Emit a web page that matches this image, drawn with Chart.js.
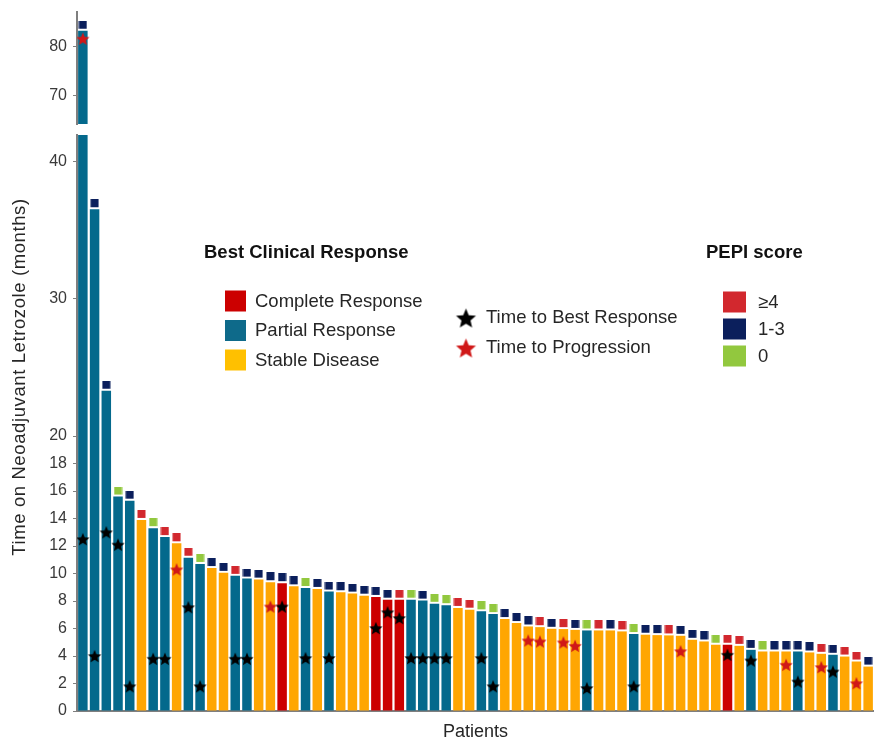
<!DOCTYPE html>
<html>
<head>
<meta charset="utf-8">
<script src="https://cdn.jsdelivr.net/npm/chart.js@4.4.1/dist/chart.umd.min.js"></script>
<style>
  html, body { margin: 0; padding: 0; background: #fff; }
  #wrap { position: relative; width: 874px; height: 743px; overflow: hidden; background: #fff; }
  #wrap canvas { position: absolute; left: 0; }
</style>
</head>
<body>
<div id="wrap">
  <canvas id="upper" width="874" height="128" style="top:0px"></canvas>
  <canvas id="lower" width="874" height="615" style="top:128px"></canvas>
</div>
<script>
// ---- data ---------------------------------------------------------------
// Time on neoadjuvant letrozole (months), one value per patient, sorted
const months = [
  83.2, 36.5, 23.3, 15.6, 15.3, 13.9, 13.3, 12.65, 12.2, 11.15,
  10.7, 10.4, 10.05, 9.83, 9.63, 9.56, 9.37, 9.3, 9.07, 8.95,
  8.88, 8.69, 8.64, 8.54, 8.39, 8.3, 8.1, 8.1, 8.1, 8.03,
  7.8, 7.7, 7.5, 7.37, 7.25, 7.05, 6.69, 6.4, 6.15, 6.1,
  5.98, 5.96, 5.9, 5.86, 5.86, 5.86, 5.79, 5.6, 5.55, 5.52,
  5.5, 5.47, 5.18, 5.06, 4.82, 4.82, 4.74, 4.45, 4.33, 4.33,
  4.33, 4.33, 4.26, 4.16, 4.09, 3.96, 3.6, 3.23
];

// Best clinical response: CR complete, PR partial, SD stable disease
const response = [
  'PR','PR','PR','PR','PR','SD','PR','PR','SD','PR',
  'PR','SD','SD','PR','PR','SD','SD','CR','SD','PR',
  'SD','PR','SD','SD','SD','CR','CR','CR','PR','PR',
  'PR','PR','SD','SD','PR','PR','SD','SD','SD','SD',
  'SD','SD','SD','PR','SD','SD','SD','PR','SD','SD',
  'SD','SD','SD','SD','SD','CR','SD','PR','SD','SD',
  'SD','PR','SD','SD','PR','SD','SD','SD'
];

// PEPI score group per patient
const pepi = [
  '1-3','1-3','1-3','0','1-3','>=4','0','>=4','>=4','>=4',
  '0','1-3','1-3','>=4','1-3','1-3','1-3','1-3','1-3','0',
  '1-3','1-3','1-3','1-3','1-3','1-3','1-3','>=4','0','1-3',
  '0','0','>=4','>=4','0','0','1-3','1-3','1-3','>=4',
  '1-3','>=4','1-3','0','>=4','1-3','>=4','0','1-3','1-3',
  '>=4','1-3','1-3','1-3','0','>=4','>=4','1-3','0','1-3',
  '1-3','1-3','1-3','>=4','1-3','>=4','>=4','1-3'
];

// Time to best response (months); null where not marked
const bestResponse = [
  12.5, 4.0, 13.0, 12.1, 1.8, null, 3.8, 3.8, null, 7.55,
  1.8, null, null, 3.8, 3.8, null, null, 7.6, null, 3.85,
  null, 3.85, null, null, null, 6.03, 7.18, 6.76, 3.85, 3.85,
  3.85, 3.85, null, null, 3.85, 1.8, null, null, null, null,
  null, null, null, 1.66, null, null, null, 1.8, null, null,
  null, null, null, null, null, 4.09, null, 3.67, null, null,
  null, 2.14, null, null, 2.87, null, null, null
];

// Time to progression (months); null where not marked
const progression = [
  81.6, null, null, null, null, null, null, null, 10.3, null,
  null, null, null, null, null, null, 7.6, null, null, null,
  null, null, null, null, null, null, null, null, null, null,
  null, null, null, null, null, null, null, null, 5.13, 5.06,
  null, 4.99, 4.74, null, null, null, null, null, null, null,
  null, 4.35, null, null, null, null, null, null, null, null,
  3.36, null, null, 3.19, null, null, 2.02, null
];

const patients = months.map((_, i) => 'Patient ' + (i + 1));

// Axis ticks for the two panels of the broken axis
const upperTicks = [70, 80];
const lowerTicks = [0, 2, 4, 6, 8, 10, 12, 14, 16, 18, 20, 30, 40];

// Legend entries
const responseLabels = { CR: 'Complete Response', PR: 'Partial Response', SD: 'Stable Disease' };
const pepiLabels = { '>=4': '\u22654', '1-3': '1-3', '0': '0' };
const starLabels = ['Time to Best Response', 'Time to Progression'];

// ---- styling -------------------------------------------------------------
const FONT = "'Liberation Sans', Arial, sans-serif";
const responseColor = { CR: '#CC0000', PR: '#04698C', SD: '#FFA602' };
const responseSwatch = { CR: '#CC0000', PR: '#0E6A8A', SD: '#FFC000' };
const pepiColor = { '>=4': '#D2282E', '1-3': '#0B1F5C', '0': '#92C83E' };
const AXIS = '#7f7f7f';

function makeStar(color, R) {
  const s = Math.ceil(R * 2 + 2);
  const c = document.createElement('canvas');
  c.width = s; c.height = s;
  const g = c.getContext('2d');
  g.fillStyle = color;
  g.beginPath();
  const cx = s / 2, cy = s / 2 + R * 0.1;
  for (let k = 0; k < 10; k++) {
    const r = k % 2 ? R * 0.45 : R;
    const a = -Math.PI / 2 + k * Math.PI / 5;
    g.lineTo(cx + r * Math.cos(a), cy + r * Math.sin(a));
  }
  g.closePath();
  g.fill();
  return c;
}

// small square sitting just above the point it is anchored to
function makeCap(color) {
  const c = document.createElement('canvas');
  c.width = 9; c.height = 20;
  const g = c.getContext('2d');
  g.fillStyle = color;
  g.fillRect(0.5, 0, 8, 8);
  return c;
}

const blackStar = makeStar('#000000', 7);
const redStar = makeStar('#D01818', 7);
const capImg = {};
Object.keys(pepiColor).forEach(k => { capImg[k] = makeCap(pepiColor[k]); });

function makeDatasets() {
  return [
    {
      type: 'bar',
      label: 'Time on letrozole',
      data: months,
      backgroundColor: months.map((_, i) => responseColor[response[i]]),
      borderWidth: 0,
      barPercentage: 0.81,
      categoryPercentage: 1.0,
      clip: 0,
      order: 3
    },
    {
      type: 'line',
      label: 'PEPI score',
      data: months,
      showLine: false,
      pointStyle: ctx => capImg[pepi[ctx.dataIndex]],
      pointRadius: 5,
      pointHoverRadius: 5,
      clip: 0,
      order: 2
    },
    {
      type: 'line',
      label: starLabels[0],
      data: bestResponse,
      showLine: false,
      pointStyle: blackStar,
      pointRadius: 6,
      pointHoverRadius: 6,
      clip: 0,
      order: 1
    },
    {
      type: 'line',
      label: starLabels[1],
      data: progression,
      showLine: false,
      pointStyle: redStar,
      pointRadius: 6,
      pointHoverRadius: 6,
      clip: 0,
      order: 0
    }
  ];
}

function yAxis(min, max, tickList) {
  return {
    min: min,
    max: max,
    afterBuildTicks: s => { s.ticks = tickList.map(v => ({ value: v })); },
    afterFit: s => { s.width = 77; s.paddingTop = 0; s.paddingBottom = 0; },
    grid: { drawOnChartArea: false, drawTicks: true, tickLength: 4, color: AXIS, lineWidth: 1 },
    border: { display: true, color: AXIS, width: 2 },
    ticks: { font: { family: FONT, size: 16 }, color: '#3a3a3a', padding: 6, autoSkip: false }
  };
}

const common = {
  responsive: false,
  animation: false,
  events: [],
  plugins: { legend: { display: false }, tooltip: { enabled: false } }
};

// ---- upper panel (break above 64 months) --------------------------------
new Chart(document.getElementById('upper'), {
  type: 'bar',
  data: { labels: patients, datasets: makeDatasets() },
  options: Object.assign({}, common, {
    layout: { autoPadding: false, padding: { top: 12, bottom: 4, left: 0, right: 0 } },
    scales: {
      x: { display: false, offset: true },
      y: yAxis(64.3, 87, upperTicks)
    }
  })
});

// ---- legend and y title drawn on the lower panel -------------------------
const OFF = 128; // lower canvas top offset within the page
const annotations = {
  id: 'annotations',
  afterDraw(chart) {
    const ctx = chart.ctx;
    ctx.save();
    ctx.textBaseline = 'middle';
    ctx.textAlign = 'left';

    // group titles
    ctx.fillStyle = '#111111';
    ctx.font = 'bold 18.5px ' + FONT;
    ctx.fillText('Best Clinical Response', 204, 253 - OFF);
    ctx.fillText('PEPI score', 706, 253 - OFF);

    // response swatches
    ctx.font = '18.5px ' + FONT;
    const respKeys = ['CR', 'PR', 'SD'];
    const respTops = [290.5, 320, 349.5];
    respKeys.forEach((k, i) => {
      ctx.fillStyle = responseSwatch[k];
      ctx.fillRect(225, respTops[i] - OFF, 21, 21);
      ctx.fillStyle = '#262626';
      ctx.fillText(responseLabels[k], 255, respTops[i] + 11 - OFF);
    });

    // star markers
    const bigBlack = makeStar('#000000', 10.5);
    const bigRed = makeStar('#D01818', 10.5);
    [[bigBlack, 318], [bigRed, 348]].forEach(([img, cy], i) => {
      ctx.drawImage(img, 466 - img.width / 2, cy - OFF - img.height / 2);
      ctx.fillStyle = '#262626';
      ctx.fillText(starLabels[i], 486, cy - OFF);
    });

    // PEPI swatches
    const pepiKeys = ['>=4', '1-3', '0'];
    const pepiTops = [291.5, 318.5, 345.5];
    pepiKeys.forEach((k, i) => {
      ctx.fillStyle = pepiColor[k];
      ctx.fillRect(723, pepiTops[i] - OFF, 23, 21);
      ctx.fillStyle = '#262626';
      ctx.fillText(pepiLabels[k], 758, pepiTops[i] + 11 - OFF);
    });

    // y-axis title, centred over both panels
    ctx.translate(20, 377 - OFF);
    ctx.rotate(-Math.PI / 2);
    ctx.textAlign = 'center';
    ctx.fillStyle = '#262626';
    ctx.font = '18.5px ' + FONT;
    if ('letterSpacing' in ctx) ctx.letterSpacing = '0.6px';
    ctx.fillText('Time on Neoadjuvant Letrozole (months)', 0, 0);
    ctx.restore();
  }
};

// ---- lower panel (0 to 42 months) ----------------------------------------
new Chart(document.getElementById('lower'), {
  type: 'bar',
  data: { labels: patients, datasets: makeDatasets() },
  options: Object.assign({}, common, {
    layout: { autoPadding: false, padding: { top: 7, bottom: 0, left: 0, right: 0 } },
    scales: {
      x: {
        offset: true,
        afterFit: s => { s.height = 32; },
        grid: { display: false },
        border: { display: true, color: AXIS, width: 2 },
        ticks: { display: false },
        title: {
          display: true,
          text: 'Patients',
          color: '#262626',
          font: { family: FONT, size: 18 },
          padding: { top: 0, bottom: 0 }
        }
      },
      y: yAxis(0, 41.9, lowerTicks)
    }
  }),
  plugins: [annotations]
});
</script>
</body>
</html>
